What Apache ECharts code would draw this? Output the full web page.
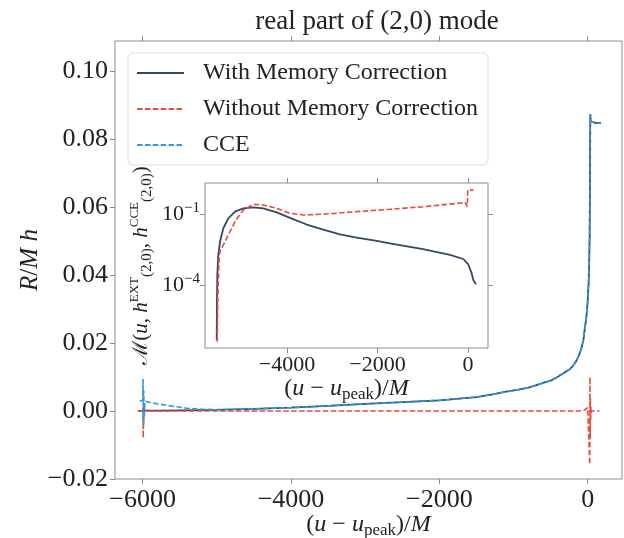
<!DOCTYPE html>
<html>
<head>
<meta charset="utf-8">
<script src="https://cdn.jsdelivr.net/npm/echarts@6/dist/echarts.min.js"></script>
<style>
  html, body { margin: 0; padding: 0; background: #fff; }
  #chart { width: 624px; height: 538px; }
</style>
</head>
<body>
<div id="chart"></div>
<script>
// main panel: R/M h against (u - u_peak)/M
const memX = [-6050, -6000, -5995, -5990, -5985, -5980, -5950, -5800, -5500, -5000, -4500, -4000, -3500, -3000, -2500, -2000, -1500, -1300, -1100, -950, -800, -720, -650, -580, -500, -420, -380, -330, -290, -240, -210, -180, -155, -130, -110, -90, -75, -60, -50, -40, -28, -18, -8, 0, 5, 13, 20, 27, 30, 32, 34, 36, 38, 42, 55, 100, 180];
const memY = [0, 0, 0.0006, -0.0005, 0.0003, 0.0001, 0.0001, 0.0001, 0.0002, 0.0003, 0.0006, 0.001, 0.0015, 0.0021, 0.0026, 0.0031, 0.0041, 0.0048, 0.0057, 0.0062, 0.0069, 0.0074, 0.0079, 0.0084, 0.0089, 0.0098, 0.0104, 0.011, 0.0116, 0.0123, 0.013, 0.0138, 0.0147, 0.0157, 0.0168, 0.018, 0.0193, 0.0206, 0.022, 0.024, 0.0258, 0.0275, 0.030, 0.032, 0.0345, 0.0375, 0.043, 0.052, 0.062, 0.072, 0.081, 0.0873, 0.0862, 0.0852, 0.0848, 0.0847, 0.0847];

const noMemX = [-6070, -6000, -5995, -5992, -5989, -5986, -5983, -5980, -5950, -3000, -500, -150, -72, -40, -18, 0, 15, 25, 28, 31, 34, 37, 40, 43, 46, 50, 60, 80, 160];
const noMemY = [0, 0, 0.001, -0.0079, 0.0005, -0.004, 0.0003, 0, 0, 0, 0, 0, 0, 0.0003, 0.0008, 0.001, 0.0012, 0.001, -0.0157, 0.0100, -0.008, 0.004, -0.003, 0.0015, -0.001, 0, 0, 0, 0];

// CCE: its own start near -6000, then it lies on the corrected curve
const cceHeadX = [-6040, -6000, -5995, -5990, -5985, -5980, -5970, -5950, -5900, -5800, -5600, -5400, -5200, -5000];
const cceHeadY = [0.003, 0.003, 0.0094, -0.0042, 0.006, -0.002, 0.0029, 0.0027, 0.0025, 0.0021, 0.0014, 0.0008, 0.0005, 0.0004];

// inset: mismatch against CCE (log scale)
const memInsX = [-5553, -5548, -5540, -5518, -5480, -5407, -5297, -5149, -4965, -4745, -4524, -4228, -3934, -3564, -3198, -2829, -2460, -1982, -1731, -994, -398, -104, 7, 82, 118, 177];
const memInsY = [4.8e-7, 1.6e-5, 2.6e-4, 1.9e-3, 6.8e-3, 0.025, 0.066, 0.126, 0.174, 0.19, 0.174, 0.117, 0.069, 0.036, 0.022, 0.0138, 0.010, 0.0072, 0.0058, 0.0033, 0.0019, 0.00126, 0.00074, 0.00031, 0.000162, 0.000107];

const noMemInsX = [-5540, -5530, -5518, -5496, -5466, -5407, -5297, -5149, -4965, -4745, -4524, -4228, -3934, -3639, -3198, -2460, -1724, -987, -250, -66, -15, -7, 118];
const noMemInsY = [4e-7, 2.5e-5, 1.4e-4, 1.9e-3, 3.0e-3, 4.9e-3, 0.0129, 0.048, 0.148, 0.257, 0.24, 0.174, 0.107, 0.091, 0.098, 0.126, 0.158, 0.204, 0.28, 0.31, 0.204, 1.02, 1.02];

const mainXTicks = [-6000, -4000, -2000, 0];
const mainYTicks = [-0.02, 0, 0.02, 0.04, 0.06, 0.08, 0.1];
const insXTicks = [-4000, -2000, 0];
const insYTicks = [1e-4, 1e-1];

const names = ["With Memory Correction", "Without Memory Correction", "CCE"];
const colors = ["#34495e", "#e74c3c", "#3498db"];

const pairs = (xs, ys) => xs.map((x, i) => [x, ys[i]]);
const tailStart = memX.indexOf(-4500);
const cceX = cceHeadX.concat(memX.slice(tailStart));
const cceY = cceHeadY.concat(memY.slice(tailStart));

const serif = "Liberation Serif";
const gray = "#8c8c8c";
const minus = v => (v < 0 ? "\u2212" : "") + Math.abs(v);

const mathRich = size => ({
  n: { fontFamily: serif, fontSize: size, color: "#222" },
  i: { fontFamily: serif, fontSize: size, fontStyle: "italic", color: "#222" },
  sub: { fontFamily: serif, fontSize: Math.round(size * 0.7), color: "#222", padding: [12, 0, 0, 0] },
  sup: { fontFamily: serif, fontSize: Math.round(size * 0.62), color: "#222", padding: [0, 0, 14, 0] }
});
const uName = "{n|(}{i|u}{n| \u2212 }{i|u}{sub|peak}{n|)/}{i|M}";

const chart = echarts.init(document.getElementById("chart"));

const ticks = values => ({ show: true, length: 5, lineStyle: { color: gray }, customValues: values });
const axis = (grid, type, pos, values, extra) => Object.assign({
  gridIndex: grid,
  type: type,
  position: pos,
  axisLine: { show: false, onZero: false },
  splitLine: { show: false },
  axisLabel: { show: false },
  axisTick: ticks(values)
}, extra);

const option = {
  animation: false,
  backgroundColor: "#fff",
  title: {
    text: "real part of (2,0) mode",
    left: 372,
    top: 3,
    textAlign: "center",
    textStyle: { fontFamily: serif, fontWeight: "normal", fontSize: 27, color: "#222" }
  },
  legend: {
    data: names,
    orient: "vertical",
    left: 128,
    top: 53,
    padding: [8, 10, 8, 8],
    itemWidth: 47,
    itemHeight: 14,
    itemGap: 12,
    itemStyle: { opacity: 0 },
    backgroundColor: "#fff",
    borderColor: "#ddd",
    borderWidth: 1,
    borderRadius: 5,
    textStyle: { fontFamily: serif, fontSize: 24, color: "#222", padding: [0, 0, 0, 14] }
  },
  grid: [
    { left: 115, top: 41, width: 507, height: 438, outerBoundsMode: "none", show: true, borderColor: gray, borderWidth: 1 },
    { left: 205, top: 183, width: 283, height: 165, outerBoundsMode: "none", show: true, borderColor: gray, borderWidth: 1, backgroundColor: "#fff", z: 5 }
  ],
  xAxis: [
    axis(0, "value", "bottom", mainXTicks, {
      min: -6373, max: 463,
      axisLabel: { show: true, customValues: mainXTicks, formatter: minus, fontFamily: serif, fontSize: 26, color: "#222", margin: 8 },
      name: uName, nameLocation: "middle", nameGap: 31, nameMoveOverlap: false,
      nameTextStyle: { rich: mathRich(24) }
    }),
    axis(0, "value", "top", mainXTicks, { min: -6373, max: 463 }),
    axis(1, "value", "bottom", insXTicks, {
      min: -5812, max: 442,
      axisLabel: { show: true, customValues: insXTicks, formatter: minus, fontFamily: serif, fontSize: 22, color: "#222", margin: 6 },
      name: uName, nameLocation: "middle", nameGap: 23,
      nameTextStyle: { rich: mathRich(24) }
    }),
    axis(1, "value", "top", insXTicks, { min: -5812, max: 442 })
  ],
  yAxis: [
    axis(0, "value", "left", mainYTicks, {
      min: -0.02, max: 0.1088,
      axisLabel: {
        show: true, customValues: mainYTicks, fontFamily: serif, fontSize: 26, color: "#222", margin: 7,
        formatter: v => (v < 0 ? "\u2212" : "") + Math.abs(v).toFixed(2)
      },
      name: "{i|R}{n|/}{i|M h}", nameLocation: "middle", nameRotate: 90, nameGap: 72, nameMoveOverlap: false,
      nameTextStyle: { rich: mathRich(25) }
    }),
    axis(1, "log", "left", insYTicks, {
      min: 2.2e-7, max: 2.04, logBase: 10,
      axisLabel: {
        show: true, customValues: insYTicks, margin: 5,
        formatter: v => "{b|10}{s|\u2212" + Math.round(-Math.log10(v)) + "}",
        rich: {
          b: { fontFamily: serif, fontSize: 22, color: "#222" },
          s: { fontFamily: serif, fontSize: 15, color: "#222", padding: [0, 0, 12, 0] }
        }
      },
      name: "{n|\u2133(}{i|u}{n|, }{i|h}{sup|EXT}{sub|(2,0)}{n|, }{i|h}{sup|CCE}{sub|(2,0)}{n|)}",
      nameLocation: "middle", nameRotate: 90, nameGap: 50,
      nameTextStyle: { rich: mathRich(21) }
    }),
    axis(1, "log", "right", insYTicks, { min: 2.2e-7, max: 2.04, logBase: 10 })
  ],
  series: [
    {
      name: names[0], type: "line", xAxisIndex: 0, yAxisIndex: 0, symbol: "none",
      data: pairs(memX, memY), lineStyle: { color: colors[0], width: 1.8 }, itemStyle: { color: colors[0] }
    },
    {
      name: names[1], type: "line", xAxisIndex: 0, yAxisIndex: 0, symbol: "none",
      data: pairs(noMemX, noMemY), lineStyle: { color: colors[1], width: 1.6, type: [5.5, 2.4] }, itemStyle: { color: colors[1] }
    },
    {
      name: names[2], type: "line", xAxisIndex: 0, yAxisIndex: 0, symbol: "none",
      data: pairs(cceX, cceY), lineStyle: { color: colors[2], width: 1.6, type: [5.5, 2.4] }, itemStyle: { color: colors[2] }
    },
    {
      name: names[0], type: "line", xAxisIndex: 2, yAxisIndex: 1, symbol: "none", z: 6,
      data: pairs(memInsX, memInsY), lineStyle: { color: colors[0], width: 1.8 }, itemStyle: { color: colors[0] }
    },
    {
      name: names[1], type: "line", xAxisIndex: 2, yAxisIndex: 1, symbol: "none", z: 6,
      data: pairs(noMemInsX, noMemInsY), lineStyle: { color: colors[1], width: 1.6, type: [5.5, 2.4] }, itemStyle: { color: colors[1] }
    }
  ]
};

chart.setOption(option);
</script>
</body>
</html>
